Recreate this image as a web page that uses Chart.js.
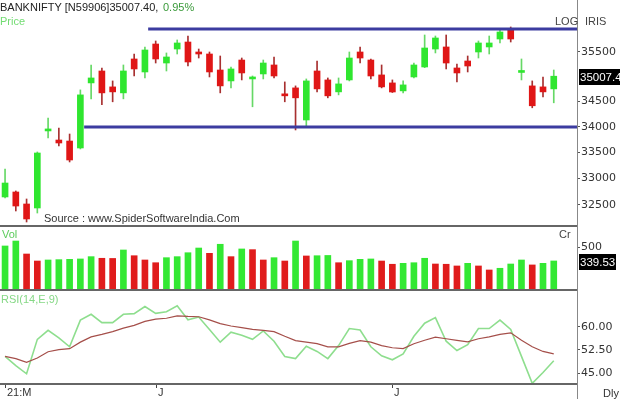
<!DOCTYPE html>
<html>
<head>
<meta charset="utf-8">
<script src="https://cdn.jsdelivr.net/npm/chart.js@4.4.1/dist/chart.umd.min.js"></script>
<style>
  html, body { margin: 0; padding: 0; background: #fff; }
  #wrap { position: relative; width: 620px; height: 399px; overflow: hidden; background: #fff; }
  #wrap canvas { position: absolute; left: 0; }
</style>
</head>
<body>
<div id="wrap">
  <canvas id="priceChart" width="620" height="227" style="top:0"></canvas>
  <canvas id="volChart" width="620" height="64" style="top:227px"></canvas>
  <canvas id="rsiChart" width="620" height="108" style="top:291px"></canvas>
</div>
<script>
// daily BANKNIFTY candles
const openP = [32651,32745,32519,32444,33919,33742,33722,33587,34872,35113,34792,34672,35357,35093,35664,35275,35561,35705,35500,35459,35133,34912,35336,34952,35053,35235,34652,34772,34134,35113,34932,34692,34932,35500,35336,35033,34872,34712,34992,35194,35561,35603,35174,35316,35500,35603,35767,35954,35083,34812,34792,34752];
const highP = [33182,32764,32613,33510,34173,33977,33859,34732,35235,35174,34912,35235,35459,35603,35726,35480,35747,35829,35561,35500,35418,35194,35377,35012,35336,35398,34892,34812,34952,35316,34972,34972,35500,35603,35357,35235,34932,34912,35275,35850,35829,35850,35255,35418,35726,35829,35954,36016,35357,34912,34992,35133];
const lowP = [32632,32388,32183,32350,33781,33626,33317,33568,34553,34435,34494,34553,35012,34972,35275,35113,35459,35214,35377,34992,34672,34772,34932,34395,34952,34972,34494,33938,34016,34692,34573,34632,34912,35275,34952,34772,34680,34672,34972,35180,35480,35154,34892,35093,35377,35459,35685,35705,34932,34375,34593,34474];
const closeP = [32915,32481,32239,33490,33957,33684,33355,34632,34972,34672,34692,35113,35154,35541,35357,35398,35685,35296,35459,35093,34812,35154,35073,34972,35275,35012,34613,34573,34912,34752,34613,34852,35377,35377,35012,34792,34690,34832,35235,35582,35788,35275,35073,35214,35685,35685,35912,35767,35103,34415,34692,35007.40];
const volume = [515,573,421,339,351,355,359,363,390,371,369,468,401,351,319,378,390,436,491,429,535,390,480,472,351,378,339,573,398,401,404,319,343,359,363,339,301,312,319,371,304,301,281,312,281,234,254,304,351,293,312,339.53];
const rsiVal = [50.4,47.4,44.8,55.9,58.8,56.4,53.5,62.1,64.0,61.3,61.3,64.0,64.2,66.5,64.3,64.8,66.7,62.2,63.1,59.1,55.0,58.2,57.2,55.9,58.6,55.3,50.4,49.7,53.7,52.0,49.7,53.9,59.4,58.9,53.5,50.6,49.3,51.2,56.9,61.1,62.9,55.3,52.3,54.2,59.4,59.4,62.1,59.1,50.4,41.7,45.2,49.0];
const rsiSignal = [50.4,49.7,48.5,49.9,51.9,52.6,52.9,55.0,56.7,57.5,58.4,59.5,60.4,61.7,62.4,62.7,63.5,63.3,63.2,62.2,61.0,60.2,59.7,59.1,58.8,58.4,56.9,55.5,55.0,54.5,53.5,53.5,54.6,55.5,55.0,53.9,53.2,52.9,54.5,55.6,56.6,56.1,55.6,55.1,56.1,56.7,57.5,58.0,55.6,53.5,52.0,51.2];

// axis labels
const priceTicks = [32500, 33000, 33500, 34000, 34500, 35500];
const volTicks = [500];
const rsiTicks = [45, 52.5, 60];
const xTickIdx = [0, 14, 36];
const xTickText = ['21:M', 'J', 'J'];

// the two horizontal trend lines (start bar, level)
const trendStart = [13.3, 7.35];
const trendLevel = [35975, 33995];

const GREEN = '#2fe62f', RED = '#e01616';
const X_MIN = -0.47, X_MAX = 53.16;
const AXIS_W = 43;
const AXIS_FONT = { family: 'DejaVu Sans', size: 11 };
const TXT_FONT = '11px "Liberation Sans"';

const idx = closeP.map((_, i) => i);
const up = idx.map(i => closeP[i] >= openP[i]);
const volUp = idx.map(i => i === 0 || volume[i] >= volume[i - 1]);

function rightAxis(type, min, max, ticks, fmt) {
  return {
    type: type, position: 'right', min: min, max: max,
    afterBuildTicks: s => { s.ticks = ticks.map(v => ({ value: v })); },
    afterFit: s => { s.width = AXIS_W; s.paddingTop = 0; s.paddingBottom = 0; },
    ticks: { callback: fmt, color: '#333', font: AXIS_FONT, padding: 1, autoSkip: false },
    grid: { drawOnChartArea: false, drawTicks: true, tickLength: 3, color: '#555' },
    border: { display: false }
  };
}

function xAxis() {
  return { type: 'linear', min: X_MIN, max: X_MAX, display: false, offset: false };
}

function baseOptions(scales, padBottom) {
  return {
    responsive: false, animation: false, events: [],
    layout: { padding: { left: 0, right: 0, top: 0, bottom: padBottom || 0 }, autoPadding: false },
    plugins: { legend: { display: false }, tooltip: { enabled: false } },
    scales: scales
  };
}

function txt(ctx, s, x, y, color, font, align) {
  ctx.save();
  ctx.font = font || TXT_FONT;
  ctx.fillStyle = color;
  ctx.textAlign = align || 'left';
  ctx.textBaseline = 'alphabetic';
  ctx.fillText(s, x, y);
  ctx.restore();
}

function frame(chart, sepY) {
  const ctx = chart.ctx;
  ctx.save();
  ctx.fillStyle = '#888';
  ctx.fillRect(chart.chartArea.right, 0, 1, chart.height);
  ctx.fillStyle = '#666';
  ctx.fillRect(0, sepY, chart.chartArea.right, 2);
  ctx.restore();
}

function valueBox(chart, value, label, w) {
  const ctx = chart.ctx;
  const y = chart.scales.y.getPixelForValue(value);
  ctx.save();
  ctx.fillStyle = '#000';
  ctx.fillRect(579, Math.round(y) - 7, w, 16);
  ctx.restore();
  txt(ctx, label, 580, Math.round(y) + 5, '#fff', '11.5px "Liberation Sans"');
}

// price panel
new Chart(document.getElementById('priceChart'), {
  type: 'bar',
  data: {
    datasets: [
      {
        type: 'line', order: 0,
        data: [{ x: trendStart[0], y: trendLevel[0] }, { x: X_MAX, y: trendLevel[0] }],
        borderColor: '#3c3ca0', borderWidth: 3, pointRadius: 0
      },
      {
        type: 'line', order: 0,
        data: [{ x: trendStart[1], y: trendLevel[1] }, { x: X_MAX, y: trendLevel[1] }],
        borderColor: '#3c3ca0', borderWidth: 3, pointRadius: 0
      },
      {
        order: 1,
        data: idx.map(i => ({ x: i, y: [openP[i], closeP[i]] })),
        backgroundColor: idx.map(i => up[i] ? GREEN : RED),
        barThickness: 6, minBarLength: 2, grouped: false
      },
      {
        order: 2,
        data: idx.map(i => ({ x: i, y: [lowP[i], highP[i]] })),
        backgroundColor: idx.map(i => up[i] ? '#66d866' : '#a83030'),
        barThickness: 1, grouped: false
      }
    ]
  },
  options: baseOptions({
    x: xAxis(),
    y: rightAxis('logarithmic', 32090, 36581, priceTicks, v => String(v))
  }),
  plugins: [{
    id: 'priceDecor',
    afterDraw(chart) {
      const ctx = chart.ctx;
      frame(chart, 225);
      txt(ctx, 'BANKNIFTY [N59906]35007.40,', 0, 11, '#222');
      txt(ctx, '0.95%', 163, 11, '#3a9a3a');
      txt(ctx, 'Price', 0, 25, '#72dc72');
      txt(ctx, 'LOG', 555, 25, '#444');
      txt(ctx, 'IRIS', 585, 25, '#444');
      txt(ctx, 'Source : www.SpiderSoftwareIndia.Com', 44, 222, '#333');
      valueBox(chart, closeP[closeP.length - 1], closeP[closeP.length - 1].toFixed(2), 41);
    }
  }]
});

// volume panel
new Chart(document.getElementById('volChart'), {
  type: 'bar',
  data: {
    datasets: [{
      data: idx.map(i => ({ x: i, y: volume[i] })),
      backgroundColor: idx.map(i => volUp[i] ? '#33e833' : '#e01c1c'),
      barThickness: 6, grouped: false
    }]
  },
  options: baseOptions({
    x: xAxis(),
    y: rightAxis('linear', -12, 737, volTicks, v => String(v))
  }),
  plugins: [{
    id: 'volDecor',
    afterDraw(chart) {
      const ctx = chart.ctx;
      frame(chart, 62);
      txt(ctx, 'Vol', 2, 11, '#5ccc5c');
      txt(ctx, 'Cr', 559, 11, '#444');
      valueBox(chart, volume[volume.length - 1], volume[volume.length - 1].toFixed(2), 37);
    }
  }]
});

// RSI panel
new Chart(document.getElementById('rsiChart'), {
  type: 'line',
  data: {
    datasets: [
      {
        order: 0,
        data: idx.map(i => ({ x: i, y: rsiSignal[i] })),
        borderColor: '#a54f4a', borderWidth: 1.2, pointRadius: 0, tension: 0
      },
      {
        order: 1,
        data: idx.map(i => ({ x: i, y: rsiVal[i] })),
        borderColor: '#8ede8e', borderWidth: 1.6, pointRadius: 0, tension: 0
      }
    ]
  },
  options: baseOptions({
    x: xAxis(),
    y: rightAxis('linear', 41.5, 71.5, rsiTicks, v => v.toFixed(2))
  }, 15),
  plugins: [{
    id: 'rsiDecor',
    afterDraw(chart) {
      const ctx = chart.ctx;
      const area = chart.chartArea;
      frame(chart, area.bottom - 1);
      txt(ctx, 'RSI(14,E,9)', 1, 12, '#86d886');
      const xs = chart.scales.x;
      xTickIdx.forEach((v, k) => {
        const px = Math.round(xs.getPixelForValue(v));
        ctx.fillStyle = '#444';
        ctx.fillRect(px, area.bottom + 1, 1, 3);
        txt(ctx, xTickText[k], px + 2, 105, '#333');
      });
      txt(ctx, 'Dly', 603, 106, '#333');
    }
  }]
});
</script>
</body>
</html>
